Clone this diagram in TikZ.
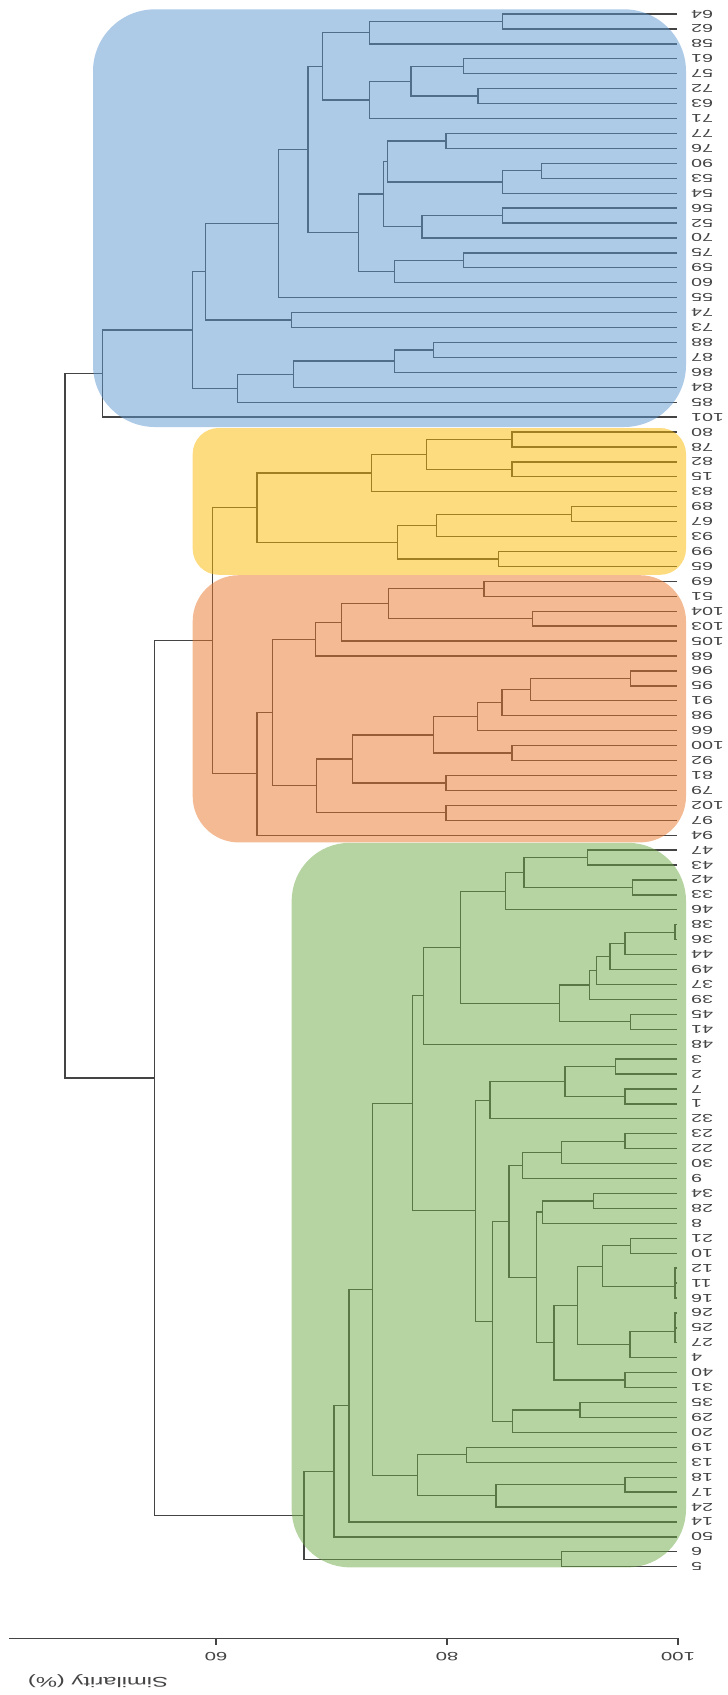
\documentclass[tikz,border=0pt]{standalone}
\usepackage{fontspec}
\setmainfont{Liberation Sans}
\usetikzlibrary{calc}
\definecolor{lc}{RGB}{68,68,68}
\definecolor{cblue}{RGB}{93,151,209}
\definecolor{cyellow}{RGB}{251,186,0}
\definecolor{corange}{RGB}{233,119,41}
\definecolor{cgreen}{RGB}{111,171,69}
\newcommand\dendjoin[4]{%
  \path let \p1=(#3), \p2=(#4) in coordinate (#1) at (#2pt,{0.5*(\y1+\y2)});
  \draw[dl] (#3) -| (#1) |- (#4);}
\begin{document}
\begin{tikzpicture}[x=1pt,y=-1pt,
  dl/.style={draw=lc,line width=1.3pt},
  lbl/.style={rotate=180,xscale=1.7,anchor=east,inner sep=0pt,text=lc,font=\fontsize{11.5}{12}\selectfont},
  axlbl/.style={rotate=180,xscale=1.7,inner sep=0pt,text=lc,font=\fontsize{12}{13}\selectfont},
  grpbox/.style={fill=#1,fill opacity=0.5}]
\useasboundingbox (0,0) rectangle (728,1695);
\fill[white] (0,0) rectangle (728,1695);
% leaves
\foreach \lab [count=\i from 0] in {64,62,58,61,57,72,63,71,77,76,90,53,54,56,52,70,75,59,60,55,74,73,88,87,86,84,85,101,80,78,82,15,83,89,67,93,99,65,69,51,104,103,105,68,96,95,91,98,66,100,92,81,79,102,97,94,47,43,42,33,46,38,36,44,49,37,39,45,41,48,3,2,7,1,32,23,22,30,9,34,28,8,21,10,12,11,16,26,25,27,4,40,31,35,29,20,19,13,18,17,24,14,50,6,5}{
  \coordinate (L\lab) at (677,{14+\i*14.93});
  \node[lbl] (T\lab) at (691,{14+\i*14.93}) {\lab};
}
% blue cluster
\dendjoin{b1}{502.6}{L64}{L62}
\dendjoin{b2}{369.4}{b1}{L58}
\dendjoin{b3}{463.6}{L61}{L57}
\dendjoin{b4}{478}{L72}{L63}
\dendjoin{b5}{411}{b3}{b4}
\dendjoin{b6}{369.4}{b5}{L71}
\dendjoin{b7}{322.7}{b2}{b6}
\dendjoin{b8}{446}{L77}{L76}
\dendjoin{b9}{541.6}{L90}{L53}
\dendjoin{b10}{502.6}{b9}{L54}
\dendjoin{b11}{387.7}{b8}{b10}
\dendjoin{b12}{502.6}{L56}{L52}
\dendjoin{b13}{422}{b12}{L70}
\dendjoin{b14}{383.8}{b11}{b13}
\dendjoin{b15}{463.6}{L75}{L59}
\dendjoin{b16}{394.7}{b15}{L60}
\dendjoin{b17}{358.5}{b14}{b16}
\dendjoin{b18}{307.9}{b7}{b17}
\dendjoin{b19}{278.6}{b18}{L55}
\dendjoin{b20}{291.5}{L74}{L73}
\dendjoin{b21}{205.4}{b19}{b20}
\dendjoin{b22}{433.7}{L88}{L87}
\dendjoin{b23}{394.7}{b22}{L86}
\dendjoin{b24}{293.4}{b23}{L84}
\dendjoin{b25}{237.7}{b24}{L85}
\dendjoin{b26}{192.2}{b21}{b25}
\dendjoin{b27}{102.6}{b26}{L101}
% yellow cluster
\dendjoin{y1}{512}{L80}{L78}
\dendjoin{y2}{512}{L82}{L15}
\dendjoin{y3}{426.8}{y1}{y2}
\dendjoin{y4}{371.4}{y3}{L83}
\dendjoin{y5}{571.6}{L89}{L67}
\dendjoin{y6}{436.8}{y5}{L93}
\dendjoin{y7}{498.3}{L99}{L65}
\dendjoin{y8}{397.5}{y6}{y7}
\dendjoin{y9}{257}{y4}{y8}
% orange cluster
\dendjoin{o1}{484}{L69}{L51}
\dendjoin{o2}{532.3}{L104}{L103}
\dendjoin{o3}{388.2}{o1}{o2}
\dendjoin{o4}{341.7}{o3}{L105}
\dendjoin{o5}{315.2}{o4}{L68}
\dendjoin{o6}{630.6}{L96}{L95}
\dendjoin{o7}{530.5}{o6}{L91}
\dendjoin{o8}{501.9}{o7}{L98}
\dendjoin{o9}{477.6}{o8}{L66}
\dendjoin{o10}{512}{L100}{L92}
\dendjoin{o11}{433.3}{o9}{o10}
\dendjoin{o12}{446.1}{L81}{L79}
\dendjoin{o13}{352.4}{o11}{o12}
\dendjoin{o14}{446.1}{L102}{L97}
\dendjoin{o15}{316.7}{o13}{o14}
\dendjoin{o16}{272.3}{o5}{o15}
\dendjoin{o17}{257}{o16}{L94}
\dendjoin{yo}{212.3}{y9}{o17}
% green cluster
\dendjoin{g1}{587.3}{L47}{L43}
\dendjoin{g2}{632.3}{L42}{L33}
\dendjoin{g3}{524}{g1}{g2}
\dendjoin{g4}{505.7}{g3}{L46}
\dendjoin{g5}{675}{L38}{L36}
\dendjoin{g6}{625}{g5}{L44}
\dendjoin{g7}{610}{g6}{L49}
\dendjoin{g8}{596.7}{g7}{L37}
\dendjoin{g9}{589.3}{g8}{L39}
\dendjoin{g10}{630.7}{L45}{L41}
\dendjoin{g11}{559.3}{g9}{g10}
\dendjoin{g12}{460.7}{g4}{g11}
\dendjoin{g13}{423.3}{g12}{L48}
\dendjoin{g14}{615.7}{L3}{L2}
\dendjoin{g15}{625}{L7}{L1}
\dendjoin{g16}{565}{g14}{g15}
\dendjoin{g17}{490}{g16}{L32}
\dendjoin{g18}{625}{L23}{L22}
\dendjoin{g19}{561.7}{g18}{L30}
\dendjoin{g20}{522.3}{g19}{L9}
\dendjoin{g21}{593.3}{L34}{L28}
\dendjoin{g22}{542.7}{g21}{L8}
\dendjoin{g23}{630.7}{L21}{L10}
\dendjoin{g24}{675}{L12}{L11}
\dendjoin{g25}{675}{g24}{L16}
\dendjoin{g26}{602.3}{g23}{g25}
\dendjoin{g27}{675}{L26}{L25}
\dendjoin{g28}{675}{g27}{L27}
\dendjoin{g29}{630}{g28}{L4}
\dendjoin{g30}{577.3}{g26}{g29}
\dendjoin{g31}{625}{L40}{L31}
\dendjoin{g32}{554}{g30}{g31}
\dendjoin{g33}{536.7}{g22}{g32}
\dendjoin{g34}{509}{g20}{g33}
\dendjoin{g35}{580}{L35}{L29}
\dendjoin{g36}{512.3}{g35}{L20}
\dendjoin{g37}{492.3}{g34}{g36}
\dendjoin{g38}{475.7}{g17}{g37}
\dendjoin{g39}{412.7}{g13}{g38}
\dendjoin{g40}{466.7}{L19}{L13}
\dendjoin{g41}{625}{L18}{L17}
\dendjoin{g42}{496}{g41}{L24}
\dendjoin{g43}{417.7}{g40}{g42}
\dendjoin{g44}{372.7}{g39}{g43}
\dendjoin{g45}{349}{g44}{L14}
\dendjoin{g46}{334}{g45}{L50}
\dendjoin{g47}{561.7}{L6}{L5}
\dendjoin{g48}{304}{g46}{g47}
% root
\dendjoin{r1}{154.3}{yo}{g48}
\dendjoin{r0}{65}{b27}{r1}
% group boxes
\fill[grpbox=cblue,rounded corners=62pt] (93,9.3) rectangle (686,427);
\fill[grpbox=cyellow,rounded corners=26pt] (192.7,428) rectangle (686,574.8);
\fill[grpbox=corange,rounded corners=46pt] (192.7,575.2) rectangle (686,842.4);
\fill[grpbox=cgreen,rounded corners=58pt] (291.7,842.8) rectangle (686,1567.3);
% axis
\coordinate (A0) at (9,1638);
\coordinate (A100) at (678,1638);
\coordinate (A80) at (447,1638);
\coordinate (A60) at (216,1638);
\draw[draw=lc,line width=1pt] (A0) -- (A100);
\foreach \t in {100,80,60}{
  \draw[draw=lc,line width=1.2pt] (A\t) -- ++(0,7);
  \node[axlbl] (X\t) at ($(A\t)+(0,19)$) {\t};
}
\node[rotate=180,xscale=1.7,inner sep=0pt,text=lc,font=\fontsize{14}{15}\selectfont] (title) at (98,1681) {Similarity (\%)};
\end{tikzpicture}
\end{document}
